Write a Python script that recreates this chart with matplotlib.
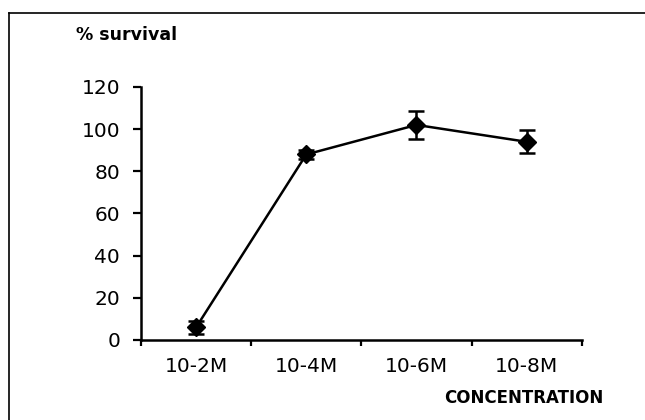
import matplotlib.pyplot as plt
from matplotlib.lines import Line2D

conc = ['10-2M', '10-4M', '10-6M', '10-8M']
survival = [6, 88, 102, 94]
err = [3, 2, 6.5, 5.5]

plt.rcParams['font.family'] = ['DejaVu Sans']

fig = plt.figure(figsize=(6.45, 4.2), dpi=100)
ax = fig.add_axes([0.2186, 0.1905, 0.6834, 0.6024])

x = list(range(len(conc)))
ax.errorbar(x, survival, yerr=err, color='black', marker='D', markersize=9,
            linewidth=1.8, elinewidth=1.8, capsize=6, capthick=1.8)

ax.set_xlim(-0.5, len(conc) - 0.5)
ax.set_ylim(0, 120)
ax.set_yticks(range(0, 121, 20))
ax.set_xticks(x)
ax.set_xticklabels(conc)
ax.set_xticks([i - 0.5 for i in range(len(conc) + 1)], minor=True)
ax.tick_params(axis='x', which='major', length=0, pad=12, labelsize=14.5)
ax.tick_params(axis='x', which='minor', length=4, width=1.6, direction='out')
ax.tick_params(axis='y', length=6, width=1.6, direction='out', pad=9, labelsize=14.5)

for s in ['top', 'right']:
    ax.spines[s].set_visible(False)
for s in ['left', 'bottom']:
    ax.spines[s].set_linewidth(1.8)

fig.text(76 / 645, 1 - 35 / 420, '% survival', fontsize=12.5, fontweight='bold',
         va='center', ha='left')
fig.text(603 / 645, 1 - 398 / 420, 'CONCENTRATION', fontsize=12, fontweight='bold',
         va='center', ha='right')

# outer frame (left and top edges)
fig.add_artist(Line2D([9 / 645, 9 / 645], [0, 1 - 13 / 420], color='black',
                      linewidth=1.2, transform=fig.transFigure))
fig.add_artist(Line2D([9 / 645, 1], [1 - 13 / 420, 1 - 13 / 420], color='black',
                      linewidth=1.2, transform=fig.transFigure))

fig.savefig('out.png', dpi=100)
